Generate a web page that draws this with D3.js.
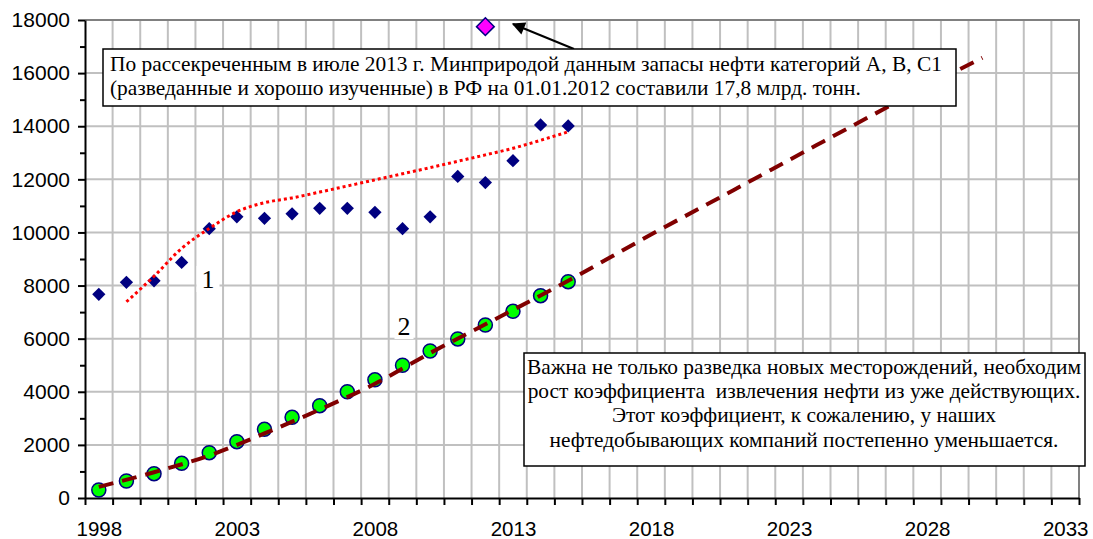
<!DOCTYPE html>
<html><head><meta charset="utf-8">
<script src="https://cdn.jsdelivr.net/npm/d3@7"></script>
<style>
html,body{margin:0;padding:0;background:#fff;}
svg{display:block;}
</style></head>
<body>
<svg id="chart" width="1093" height="539"></svg>
<script>
// ---- data ----
const categoryYears = [1998,1999,2000,2001,2002,2003,2004,2005,2006,2007,2008,2009,2010,2011,2012,2013,2014,2015,2016,2017,2018,2019,2020,2021,2022,2023,2024,2025,2026,2027,2028,2029,2030,2031,2032,2033];
const xTickLabels = [1998,2003,2008,2013,2018,2023,2028,2033];
const yTickValues = [0,2000,4000,6000,8000,10000,12000,14000,16000,18000];

const dataYears = [1998,1999,2000,2001,2002,2003,2004,2005,2006,2007,2008,2009,2010,2011,2012,2013,2014,2015];
// series 1: reserves (diamonds)
const reserveValues = [7670,8120,8180,8870,10140,10590,10530,10700,10910,10910,10760,10140,10590,12110,11880,12700,14050,14010];
// series 2: cumulative production (green circles)
const productionValues = [300,640,915,1305,1706,2120,2586,3038,3476,4000,4450,5000,5536,5990,6515,7030,7620,8146];
// declassified 2012 value
const specialYear = [2012];
const specialValue = [17750];

// trend line 1 (red dotted)
const trend1Years = [1999,2000,2001,2002,2003,2004,2005,2006,2007,2008,2009,2010,2011,2012,2013,2014,2015];
const trend1Values = [7390,8350,9400,10150,10780,11120,11300,11520,11750,11980,12210,12440,12680,12920,13170,13470,13790];

// trend line 2 (dark red dashed)
const trend2Years = [1998,2000,2002,2004,2006,2008,2010,2012,2015,2018,2021,2024,2027,2030];
const trend2Values = [420,970,1600,2430,3330,4300,5460,6540,8180,9920,11600,13290,14960,16580];

const note1Lines = ["По рассекреченным в июле 2013 г. Минприродой данным запасы нефти категорий A, B, C1",
                    "(разведанные и хорошо изученные) в РФ на 01.01.2012 составили 17,8 млрд. тонн."];
const note2Lines = ["Важна не только разведка новых месторождений, необходим",
                    "рост коэффициента  извлечения нефти из уже действующих.",
                    "Этот коэффициент, к сожалению, у наших",
                    "нефтедобывающих компаний постепенно уменьшается."];

// ---- layout ----
const SERIF = "'Times New Roman', 'Liberation Serif', 'DejaVu Serif', serif";
const SANS = "Arial, 'Liberation Sans', sans-serif";
const L = 85, R = 1079, T = 20, B = 498;
const svg = d3.select("#chart");
const x = d3.scaleLinear().domain([1997.5, 2033.5]).range([L, R]);
const y = d3.scaleLinear().domain([0, 18000]).range([B, T]);

const boundaries = categoryYears.map(v => v - 0.5).concat([categoryYears[categoryYears.length-1] + 0.5]);

// grid
const grid = svg.append("g");
grid.selectAll("line.v").data(boundaries.slice(1, -1)).join("line")
  .attr("x1", d => x(d)).attr("x2", d => x(d)).attr("y1", T).attr("y2", B)
  .attr("stroke", "#c0c0c0").attr("stroke-width", 2);
grid.selectAll("line.h").data(yTickValues.filter(v => v > 0 && v < 18000)).join("line")
  .attr("x1", L).attr("x2", R).attr("y1", d => y(d)).attr("y2", d => y(d))
  .attr("stroke", "#c0c0c0").attr("stroke-width", 2);
// plot border top/right
svg.append("path").attr("d", `M${L},${T}H${R}V${B}`).attr("fill", "none")
  .attr("stroke", "#808080").attr("stroke-width", 2);

// x axis: tick marks at category boundaries
const xAxisTicks = d3.axisBottom(x).tickValues(boundaries).tickFormat("").tickSize(7).tickSizeOuter(0);
const gx = svg.append("g").attr("transform", `translate(0,${B})`).call(xAxisTicks);
gx.select(".domain").attr("stroke", "#000").attr("stroke-width", 2);
gx.selectAll(".tick line").attr("stroke", "#000").attr("stroke-width", 2);
// x labels centered on category
const xAxisLabels = d3.axisBottom(x).tickValues(xTickLabels).tickFormat(d3.format("d")).tickSize(0).tickPadding(23);
const gxl = svg.append("g").attr("transform", `translate(0,${B})`).call(xAxisLabels);
gxl.select(".domain").remove();
gxl.selectAll("text").attr("font-family", SANS).attr("font-size", 20.5).attr("fill", "#000");

// y axis
const minorTicks = d3.range(0, 18001, 1000).filter(v => v % 2000 !== 0);
const gyMinor = svg.append("g").attr("transform", `translate(${L},0)`)
  .call(d3.axisLeft(y).tickValues(minorTicks).tickFormat("").tickSize(5).tickSizeOuter(0));
gyMinor.select(".domain").remove();
gyMinor.selectAll(".tick line").attr("stroke", "#000").attr("stroke-width", 2);
const gy = svg.append("g").attr("transform", `translate(${L},0)`)
  .call(d3.axisLeft(y).tickValues(yTickValues).tickFormat(d3.format("d")).tickSize(7).tickSizeOuter(0).tickPadding(8));
gy.select(".domain").attr("stroke", "#000").attr("stroke-width", 2);
gy.selectAll(".tick line").attr("stroke", "#000").attr("stroke-width", 2);
gy.selectAll("text").attr("font-family", SANS).attr("font-size", 21).attr("fill", "#000");

// series 2 circles
svg.append("g").selectAll("circle").data(dataYears.map((d, i) => [d, productionValues[i]])).join("circle")
  .attr("cx", d => x(d[0])).attr("cy", d => y(d[1])).attr("r", 7)
  .attr("fill", "#00ff00").attr("stroke", "#000080").attr("stroke-width", 1.5);

// series 1 diamonds
svg.append("g").selectAll("path").data(dataYears.map((d, i) => [d, reserveValues[i]])).join("path")
  .attr("d", d3.symbol().type(d3.symbolDiamond2).size(112)())
  .attr("transform", d => `translate(${x(d[0])},${y(d[1])})`)
  .attr("fill", "#000080");

// special diamond
svg.append("g").selectAll("path").data(specialYear.map((d, i) => [d, specialValue[i]])).join("path")
  .attr("d", d3.symbol().type(d3.symbolDiamond2).size(200)())
  .attr("transform", d => `translate(${x(d[0])},${y(d[1])})`)
  .attr("fill", "#ff00ff").attr("stroke", "#000080").attr("stroke-width", 1.5);

// trend lines
const line = d3.line().x(d => x(d[0])).y(d => y(d[1])).curve(d3.curveMonotoneX);
svg.append("path").attr("d", line(trend1Years.map((d, i) => [d, trend1Values[i]])))
  .attr("fill", "none").attr("stroke", "#ff0000").attr("stroke-width", 3).attr("stroke-dasharray", "3,3");
svg.append("path").attr("d", line(trend2Years.map((d, i) => [d, trend2Values[i]])))
  .attr("fill", "none").attr("stroke", "#800000").attr("stroke-width", 4).attr("stroke-dasharray", "15,9");

// series labels
function seriesLabel(text, cx, baseline, w) {
  svg.append("rect").attr("x", cx - w / 2).attr("y", baseline - 22).attr("width", w).attr("height", 26).attr("fill", "#fff");
  svg.append("text").attr("x", cx).attr("y", baseline).attr("text-anchor", "middle")
    .attr("font-family", SERIF).attr("font-size", 26).attr("fill", "#000").text(text);
}
seriesLabel("1", 208, 288, 23);
seriesLabel("2", 404, 335, 19);

// note 1 box + arrow
svg.append("defs").append("marker").attr("id", "arr").attr("viewBox", "0 0 10 10").attr("refX", 9).attr("refY", 5)
  .attr("markerWidth", 8).attr("markerHeight", 6.5).attr("orient", "auto").attr("markerUnits", "strokeWidth")
  .append("path").attr("d", "M0,0L10,5L0,10z").attr("fill", "#000");
svg.append("line").attr("x1", 574).attr("y1", 49).attr("x2", 513).attr("y2", 24)
  .attr("stroke", "#000").attr("stroke-width", 2).attr("marker-end", "url(#arr)");

svg.append("rect").attr("x", 103).attr("y", 49).attr("width", 853).attr("height", 57)
  .attr("fill", "#fff").attr("stroke", "#000").attr("stroke-width", 1.5);
svg.append("g").selectAll("text").data(note1Lines).join("text")
  .attr("x", 110).attr("y", (d, i) => 71 + i * 23.5)
  .attr("font-family", SERIF).attr("font-size", 21.4).attr("fill", "#000")
  .text(d => d);

// note 2 box
svg.append("rect").attr("x", 524).attr("y", 353).attr("width", 561).attr("height", 113)
  .attr("fill", "#fff").attr("stroke", "#000").attr("stroke-width", 1.5);
svg.append("g").selectAll("text").data(note2Lines).join("text")
  .attr("x", 804).attr("y", (d, i) => 374 + i * 24.2).attr("text-anchor", "middle")
  .attr("font-family", SERIF).attr("font-size", 21.4).attr("fill", "#000")
  .style("white-space", "pre")
  .text(d => d);
</script>
</body></html>
